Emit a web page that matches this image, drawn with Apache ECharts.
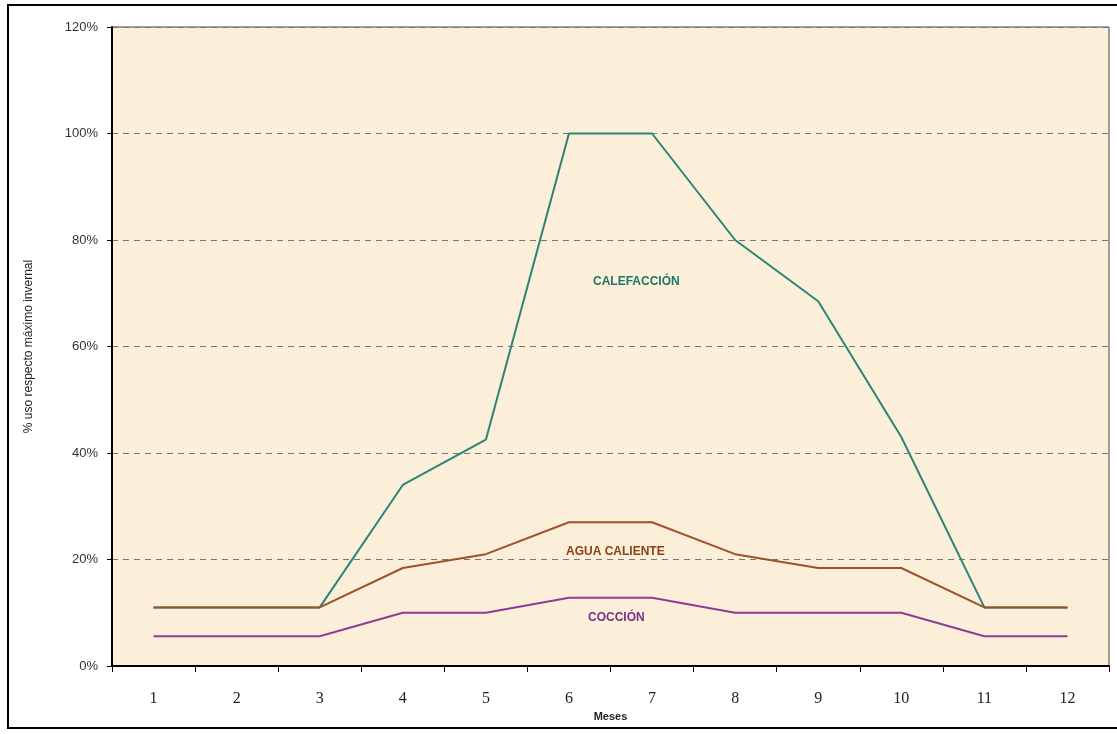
<!DOCTYPE html>
<html>
<head>
<meta charset="utf-8">
<script src="https://cdn.jsdelivr.net/npm/echarts@6/dist/echarts.min.js"></script>
<style>
  html, body { margin: 0; padding: 0; background: #fff; }
  #chart { width: 1117px; height: 734px; }
</style>
</head>
<body>
<div id="chart"></div>
<script>
// meses
const months = ['1', '2', '3', '4', '5', '6', '7', '8', '9', '10', '11', '12']
// % uso respecto máximo invernal
const calefaccion = [11, 11, 11, 34, 42.5, 100, 100, 80, 68.5, 43, 11, 11]
const aguaCaliente = [11, 11, 11, 18.4, 21, 27, 27, 21, 18.4, 18.4, 11, 11]
const coccion = [5.6, 5.6, 5.6, 10, 10, 12.8, 12.8, 10, 10, 10, 5.6, 5.6]
const yTicks = [0, 20, 40, 60, 80, 100, 120]

const chart = echarts.init(document.getElementById('chart'))

const lineSeries = (name, data, color) => ({
  name: name,
  type: 'line',
  data: data,
  symbol: 'none',
  lineStyle: { color: color, width: 2 },
  itemStyle: { color: color },
  animation: false
})

const option = {
  backgroundColor: '#fff',
  grid: {
    left: 112,
    top: 27,
    right: 8,
    bottom: 68,
    show: true,
    backgroundColor: '#fcefd9',
    borderColor: '#444',
    borderWidth: 1
  },
  xAxis: {
    type: 'category',
    data: months,
    boundaryGap: true,
    name: 'Meses',
    nameLocation: 'middle',
    nameGap: 41,
    nameTextStyle: { fontFamily: 'Liberation Sans', fontWeight: 'bold', fontSize: 11, color: '#222' },
    axisLine: { lineStyle: { color: '#000', width: 2 } },
    axisTick: { show: true, alignWithLabel: false, length: 6, lineStyle: { color: '#000' } },
    axisLabel: { fontFamily: 'Liberation Serif', fontSize: 16, color: '#222', margin: 25 }
  },
  yAxis: {
    type: 'value',
    min: yTicks[0],
    max: yTicks[yTicks.length - 1],
    interval: 20,
    name: '% uso respecto máximo invernal',
    nameLocation: 'middle',
    nameGap: 77,
    nameRotate: 90,
    nameTextStyle: { fontFamily: 'Liberation Sans', fontSize: 12, color: '#222' },
    axisLine: { show: true, lineStyle: { color: '#000', width: 2 } },
    axisTick: { show: true, length: 5, lineStyle: { color: '#000' } },
    axisLabel: { formatter: '{value}%', fontFamily: 'Liberation Sans', fontSize: 13, color: '#333', margin: 14 },
    splitLine: { lineStyle: { color: '#777', type: [6, 5], width: 1 } }
  },
  series: [
    lineSeries('CALEFACCIÓN', calefaccion, '#2a8576'),
    lineSeries('AGUA CALIENTE', aguaCaliente, '#a0502a'),
    lineSeries('COCCIÓN', coccion, '#8e3b98')
  ],
  graphic: [
    {
      type: 'rect',
      shape: { x: 8, y: 5, width: 1120, height: 723 },
      style: { fill: 'none', stroke: '#000', lineWidth: 2 },
      z: 100
    },
    {
      type: 'text', left: 593, top: 276,
      style: { text: 'CALEFACCIÓN', fill: '#1f7566', font: 'bold 12px "Liberation Sans"' }
    },
    {
      type: 'text', left: 566, top: 546,
      style: { text: 'AGUA CALIENTE', fill: '#8b4014', font: 'bold 12px "Liberation Sans"' }
    },
    {
      type: 'text', left: 588, top: 612,
      style: { text: 'COCCIÓN', fill: '#7a2f88', font: 'bold 12px "Liberation Sans"' }
    }
  ]
}

chart.setOption(option)
</script>
</body>
</html>
